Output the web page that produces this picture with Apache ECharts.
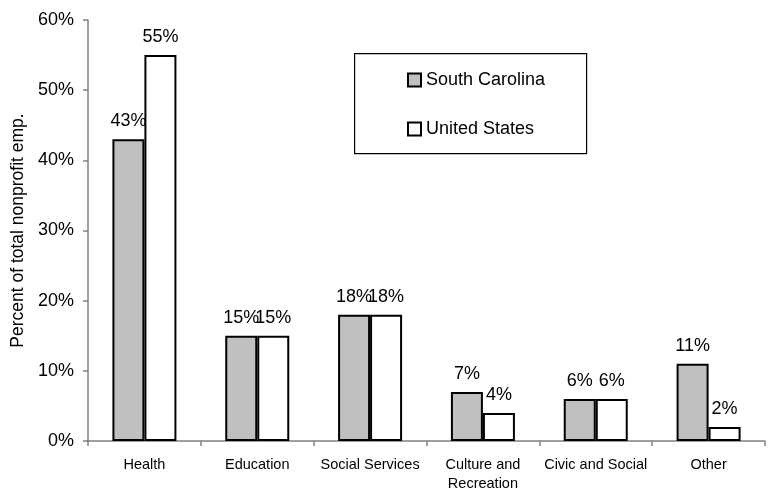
<!DOCTYPE html>
<html>
<head>
<meta charset="utf-8">
<script src="https://cdn.jsdelivr.net/npm/echarts@6/dist/echarts.min.js"></script>
<style>
  html, body { margin: 0; padding: 0; background: #ffffff; }
  #chart { width: 768px; height: 493px; }
</style>
</head>
<body>
<div id="chart"></div>
<script>
// Nonprofit employment share by sector
const categories = ['Health', 'Education', 'Social Services', 'Culture and\nRecreation', 'Civic and Social', 'Other'];
const southCarolina = [43, 15, 18, 7, 6, 11];
const unitedStates = [55, 15, 18, 4, 6, 2];
const seriesNames = ['South Carolina', 'United States'];

const FONT = '"Liberation Sans", Arial, sans-serif';

const chart = echarts.init(document.getElementById('chart'), null, { renderer: 'canvas' });

const labelStyle = {
  show: true,
  position: 'top',
  distance: 9,
  formatter: '{c}%',
  color: '#000',
  fontFamily: FONT,
  fontSize: 18
};

chart.setOption({
  animation: false,
  backgroundColor: '#ffffff',
  textStyle: { fontFamily: FONT },
  grid: { left: 88, right: 3, top: 20, bottom: 49, containLabel: false },
  graphic: [{
    type: 'rect',
    z: 0,
    left: 354,
    top: 53,
    shape: { width: 232, height: 100 },
    style: { fill: '#ffffff', stroke: '#000000', lineWidth: 1.2 }
  }],
  legend: {
    z: 10,
    orient: 'vertical',
    left: 402,
    top: 66,
    itemGap: 31,
    itemWidth: 13,
    itemHeight: 13,
    icon: 'rect',
    data: seriesNames,
    textStyle: { fontFamily: FONT, fontSize: 18, color: '#000' }
  },
  xAxis: {
    type: 'category',
    data: categories,
    axisLine: { show: true, lineStyle: { color: '#808080', width: 1.5 } },
    axisTick: { show: true, length: 5, lineStyle: { color: '#808080', width: 1.5 } },
    axisLabel: { color: '#000', fontFamily: FONT, fontSize: 14.5, margin: 14, lineHeight: 19, interval: 0 }
  },
  yAxis: {
    type: 'value',
    min: 0,
    max: 60,
    interval: 10,
    name: 'Percent of total nonprofit emp.',
    nameLocation: 'middle',
    nameGap: 61,
    nameTextStyle: { color: '#000', fontFamily: FONT, fontSize: 17.5 },
    splitLine: { show: false },
    axisLine: { show: true, lineStyle: { color: '#808080', width: 1.5 } },
    axisTick: { show: true, length: 5, lineStyle: { color: '#808080', width: 1.5 } },
    axisLabel: { formatter: '{value}%', color: '#000', fontFamily: FONT, fontSize: 18, margin: 14 }
  },
  series: [
    {
      name: seriesNames[0],
      type: 'bar',
      data: southCarolina,
      barWidth: 32,
      barGap: '0%',
      itemStyle: { color: '#c0c0c0', borderColor: '#000', borderWidth: 2 },
      label: labelStyle
    },
    {
      name: seriesNames[1],
      type: 'bar',
      data: unitedStates,
      barWidth: 32,
      barGap: '0%',
      itemStyle: { color: '#ffffff', borderColor: '#000', borderWidth: 2 },
      label: labelStyle
    }
  ]
});
</script>
</body>
</html>
